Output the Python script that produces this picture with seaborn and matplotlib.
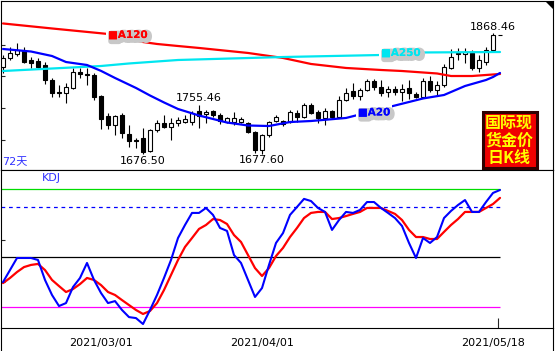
import numpy as np
import pandas as pd
import matplotlib
matplotlib.use("Agg")
import matplotlib.pyplot as plt
import seaborn as sns
from matplotlib import patheffects as pe
from matplotlib.patches import Rectangle, Polygon
from matplotlib.lines import Line2D

sns.set_style("white")
plt.rcParams["font.family"] = ["DejaVu Sans", "Noto Sans CJK SC"]

# ---------------- data ----------------
open_price = [1814.7, 1829.0, 1835.3, 1840.0, 1825.8, 1824.2, 1817.9, 1794.2, 1775.2, 1773.7,
              1781.6, 1806.8, 1803.7, 1802.1, 1768.9, 1737.3, 1723.1, 1738.9, 1708.9, 1699.4,
              1702.6, 1682.0, 1715.2, 1726.3, 1719.9, 1726.3, 1727.8, 1727.8, 1745.2, 1740.5,
              1745.2, 1738.9, 1727.8, 1727.8, 1727.8, 1726.3, 1712.0, 1683.6, 1707.3, 1729.4,
              1729.4, 1727.8, 1742.1, 1735.7, 1754.7, 1743.6, 1734.2, 1745.2, 1735.7, 1762.6,
              1776.8, 1768.9, 1778.4, 1792.6, 1783.2, 1775.2, 1780.0, 1775.2, 1781.6, 1772.1,
              1767.3, 1792.6, 1778.4, 1786.3, 1813.2, 1835.3, 1835.3, 1836.9, 1813.2, 1822.6,
              1841.6, 1865.3]
high_price = [1833.7, 1846.3, 1852.7, 1846.3, 1830.5, 1829.0, 1822.6, 1797.4, 1786.3, 1789.5,
              1813.2, 1813.2, 1813.2, 1805.3, 1770.5, 1742.1, 1738.9, 1742.1, 1723.1, 1702.6,
              1718.4, 1716.8, 1731.0, 1738.9, 1734.2, 1735.7, 1738.9, 1745.2, 1755.46, 1746.8,
              1746.8, 1742.1, 1735.7, 1743.6, 1735.7, 1727.8, 1713.6, 1708.9, 1729.4, 1738.9,
              1731.0, 1746.8, 1746.8, 1757.9, 1757.9, 1746.8, 1750.0, 1746.8, 1768.9, 1781.6,
              1789.5, 1781.6, 1795.8, 1795.8, 1794.2, 1784.7, 1784.7, 1787.9, 1794.2, 1775.2,
              1797.4, 1800.5, 1792.6, 1819.5, 1843.2, 1844.8, 1844.8, 1841.6, 1833.7, 1846.3,
              1868.46, 1865.3]
low_price = [1805.3, 1825.8, 1832.1, 1821.1, 1813.2, 1813.2, 1787.9, 1767.3, 1767.3, 1757.9,
             1780.0, 1797.4, 1786.3, 1762.6, 1716.8, 1716.8, 1707.3, 1702.6, 1688.3, 1686.8,
             1676.50, 1680.4, 1712.0, 1718.4, 1699.4, 1721.5, 1726.3, 1723.1, 1718.4, 1726.3,
             1735.7, 1724.7, 1726.3, 1723.1, 1726.3, 1710.5, 1678.4, 1677.60, 1704.1, 1727.8,
             1721.5, 1726.3, 1727.8, 1734.2, 1740.5, 1726.3, 1723.1, 1732.6, 1734.2, 1761.0,
             1764.2, 1762.6, 1776.8, 1778.4, 1768.9, 1767.3, 1770.5, 1761.0, 1764.2, 1765.8,
             1765.8, 1775.2, 1768.9, 1783.2, 1811.6, 1825.8, 1821.1, 1810.0, 1806.8, 1817.9,
             1840.0, 1865.3]
close_price = [1829.0, 1836.9, 1841.6, 1822.6, 1821.1, 1814.7, 1794.2, 1773.7, 1773.7, 1783.2,
               1806.8, 1803.7, 1802.1, 1767.3, 1732.6, 1723.1, 1737.3, 1710.5, 1697.8, 1697.8,
               1680.4, 1715.2, 1726.3, 1719.9, 1726.3, 1731.0, 1732.6, 1742.1, 1737.3, 1743.6,
               1738.9, 1729.4, 1734.2, 1734.2, 1732.6, 1712.0, 1683.6, 1707.3, 1727.8, 1735.7,
               1724.7, 1743.6, 1735.7, 1754.7, 1742.1, 1734.2, 1745.2, 1735.7, 1762.6, 1773.7,
               1768.9, 1778.4, 1792.6, 1783.2, 1773.7, 1780.0, 1775.2, 1780.0, 1773.7, 1767.3,
               1792.6, 1778.4, 1786.3, 1814.7, 1830.5, 1836.9, 1838.4, 1813.2, 1825.8, 1841.6,
               1865.3, 1865.3]

# moving averages (sampled at candle indices)
ma20_idx = [0, 4, 7, 9, 12, 14, 16, 19, 21, 23, 25, 28, 30, 32, 35, 38, 41, 44, 49, 56, 60, 63, 66, 69, 70, 71]
ma20_val = [1843.2, 1839.2, 1832.1, 1822.6, 1817.9, 1808.6, 1797.4, 1781.6, 1769.7, 1758.7, 1748.4,
            1738.1, 1732.6, 1727.0, 1722.3, 1721.5, 1727.8, 1729.4, 1734.2, 1753.9, 1765.0, 1770.5,
            1784.7, 1794.2, 1798.9, 1805.3]
ma120_idx = [0, 7, 15, 20, 22, 25, 28, 35, 40, 44, 49, 54, 57, 62, 64, 67, 70, 71]
ma120_val = [1883.5, 1875.6, 1866.9, 1854.2, 1851.1, 1847.9, 1844.8, 1836.9, 1829.0, 1819.5,
             1813.2, 1810.0, 1808.4, 1804.5, 1800.5, 1800.5, 1802.9, 1803.7]
ma250_idx = [0, 14, 18, 25, 40, 54, 60, 71]
ma250_val = [1808.4, 1816.3, 1820.3, 1825.8, 1830.5, 1833.7, 1837.7, 1838.4]

# KDJ
k_val = [34.8, 42.1, 49.4, 49.4, 49.4, 48.2, 36.1, 27.0, 20.3, 22.1, 31.8, 37.3, 46.4, 36.1, 28.2,
         22.1, 23.3, 17.9, 13.6, 13.0, 9.4, 17.9, 27.0, 37.3, 48.2, 61.5, 69.4, 76.7, 76.7, 79.7,
         75.5, 67.6, 65.8, 51.2, 46.4, 36.1, 25.8, 31.2, 45.2, 58.5, 64.5, 75.5, 80.3, 85.2, 83.9,
         79.7, 77.3, 66.4, 72.4, 77.3, 76.7, 78.5, 83.3, 83.3, 79.7, 76.7, 73.6, 68.8, 58.5, 49.4,
         61.5, 58.5, 62.1, 73.6, 77.9, 81.5, 84.5, 77.3, 77.3, 83.3, 88.8, 90.6]
d_val = [34.2, 37.3, 40.9, 43.9, 45.2, 45.8, 42.1, 36.1, 32.4, 28.8, 30.6, 33.6, 37.3, 36.1, 33.0,
         28.8, 27.0, 23.9, 20.9, 17.9, 15.5, 17.3, 22.1, 30.0, 39.1, 48.2, 56.1, 61.5, 67.0, 69.4,
         73.0, 72.4, 70.0, 63.3, 59.1, 51.2, 43.3, 38.5, 43.3, 50.6, 55.5, 62.1, 67.6, 73.6, 76.7,
         77.3, 77.3, 73.0, 73.6, 74.8, 76.1, 77.3, 79.7, 79.7, 79.7, 77.9, 76.1, 72.4, 66.4, 62.1,
         62.1, 60.9, 60.9, 65.2, 69.4, 73.0, 77.3, 77.3, 77.3, 79.7, 82.1, 85.8]
kdj_levels = [91, 80, 50, 20]
kdj_colors = ["#00dd00", "#0000ff", "black", "#ff00ff"]
kdj_styles = ["-", (0, (3, 3)), "-", "-"]

date_tick_idx = [14, 37, 70]
date_tick_labels = ["2021/03/01", "2021/04/01", "2021/05/18"]
peak_idx = [28, 70]
trough_idx = [20, 37]

ma_labels = ["■A120", "■A250", "■A20"]
ma_label_idx = [15.0, 54.0, 50.7]
ma_label_price = [1865.3, 1836.9, 1742.9]
ma_colors = ["#ff0000", "#00e6f0", "#0000ff"]
box_lines = ["国际现", "货金价", "日K线"]

# ---------------- figure ----------------
W, H = 556, 351
fig = plt.figure(figsize=(W / 100, H / 100), dpi=100)


def px_rect(l, t, r, b):
    return [l / W, 1 - b / H, (r - l) / W, (b - t) / H]


ax1 = fig.add_axes(px_rect(1, 1, 553, 170))
ax2 = fig.add_axes(px_rect(1, 170, 553, 328), sharex=ax1)

n = len(open_price)
idx = np.arange(n)
o = np.array(open_price)
c = np.array(close_price)
hi = np.array(high_price)
lo = np.array(low_price)
up = c > o

# candles
ax1.vlines(idx, lo, hi, color="black", lw=0.8, zorder=2)
bot = np.minimum(o, c)
hgt = np.abs(c - o)
ax1.bar(idx[up], hgt[up], bottom=bot[up], width=0.7, color="white",
        edgecolor="black", lw=0.8, zorder=3)
ax1.bar(idx[~up], hgt[~up], bottom=bot[~up], width=0.7, color="black",
        edgecolor="black", lw=0.8, zorder=3)

# moving averages
sns.lineplot(x=ma120_idx, y=ma120_val, ax=ax1, color=ma_colors[0], lw=1.6,
             estimator=None, sort=False, zorder=4)
sns.lineplot(x=ma250_idx, y=ma250_val, ax=ax1, color=ma_colors[1], lw=1.6,
             estimator=None, sort=False, zorder=4)
sns.lineplot(x=ma20_idx, y=ma20_val, ax=ax1, color=ma_colors[2], lw=1.6,
             estimator=None, sort=False, zorder=4)

for lab, xi, yi, col in zip(ma_labels, ma_label_idx, ma_label_price, ma_colors):
    t = ax1.text(xi, yi, lab, color=col, fontsize=7.5, fontweight="bold",
                 ha="left", va="center", zorder=6,
                 bbox=dict(fc="white", ec="none", pad=1.5))
    t.set_path_effects([pe.withStroke(linewidth=4, foreground="#c8c8c8", offset=(1.5, -1.5)),
                        pe.Normal()])

# high / low annotations
for i in peak_idx:
    ax1.annotate(f"{hi[i]:.2f}", xy=(i, hi[i]), xytext=(0, 1), textcoords="offset points",
                 ha="center", va="bottom", fontsize=8, color="black", zorder=6)
for i in trough_idx:
    ax1.annotate(f"{lo[i]:.2f}", xy=(i, lo[i]), xytext=(0, -1), textcoords="offset points",
                 ha="center", va="top", fontsize=8, color="black", zorder=6)

ax1.text(0.002, 0.047, "72天", transform=ax1.transAxes, fontsize=8, color="#3030ff",
         ha="left", va="center")

# red badge
ax1.add_patch(Rectangle(((483 - 1) / 552, (170 - 168) / 169), 54 / 552, 56 / 169,
                        transform=ax1.transAxes, fc="#f00000", ec="#300000", lw=2.2, zorder=7))
for k, line in enumerate(box_lines):
    ypx = [123, 141, 158][k]
    ax1.text((509 - 1) / 552, (170 - ypx) / 169, line, transform=ax1.transAxes,
             family=["Noto Sans CJK SC", "DejaVu Sans"], fontsize=11.5, fontweight="bold",
             color="#ffff00", ha="center", va="center", zorder=8)

# corner triangle
ax1.add_patch(Polygon([((545 - 1) / 552, 1.0), (1.0, 1.0), (1.0, (170 - 9) / 169)],
                      closed=True, transform=ax1.transAxes, fc="black", ec="none", zorder=8))

ax1.set_xlim(-0.286, 78.57)
ax1.set_ylim(1652.0, 1919.0)
ax1.set_yticks([1700, 1750, 1800, 1850])
ax1.set_ylabel("")
ax1.tick_params(axis="y", direction="in", length=3, width=0.8, labelleft=False, left=True)
ax1.tick_params(axis="x", which="major", length=0, labelbottom=False)

# KDJ panel
ax2.hlines(kdj_levels, -0.3, n - 1, colors=kdj_colors, linestyles=kdj_styles, lw=0.9, zorder=2)
sns.lineplot(x=idx, y=k_val, ax=ax2, color="#0000ff", lw=1.5, estimator=None, sort=False, zorder=4)
sns.lineplot(x=idx, y=d_val, ax=ax2, color="#ff0000", lw=1.6, estimator=None, sort=False, zorder=3)
ax2.set_ylim(7.0, 102.7)
ax2.set_yticks([35, 60])
ax2.set_ylabel("")
ax2.tick_params(axis="y", direction="in", length=3, width=0.8, labelleft=False, left=True)
ax2.set_xticks(date_tick_idx)
ax2.set_xticklabels(date_tick_labels)
ax2.set_xticks([70.7], minor=True)
ax2.tick_params(axis="x", which="major", length=0, pad=7.2, labelsize=8, labelcolor="black")
ax2.tick_params(axis="x", which="minor", direction="in", length=7, width=0.8, bottom=True)
ax1.tick_params(axis="x", which="minor", direction="in", length=2, width=0.8, bottom=True)
ax2.text(0.074, 0.949, "KDJ", transform=ax2.transAxes, fontsize=8, color="#3030ff",
         ha="left", va="center")

for ax in (ax1, ax2):
    for s in ax.spines.values():
        s.set_color("black")
        s.set_linewidth(0.8)
        s.set_visible(True)
    ax.set_facecolor("white")

# outer frame lines below the panels
fig.add_artist(Line2D([0.5 / W, 0.5 / W], [0, 1 - 328 / H], transform=fig.transFigure,
                      color="black", lw=0.8))
fig.add_artist(Line2D([553 / W, 553 / W], [0, 1 - 328 / H], transform=fig.transFigure,
                      color="black", lw=0.8))

fig.savefig("out.png", dpi=100, facecolor="white")
